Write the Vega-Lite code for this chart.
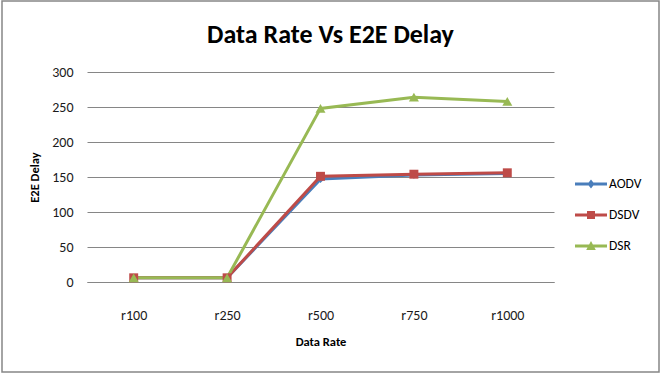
{
  "$schema": "https://vega.github.io/schema/vega-lite/v6.json",
  "autosize": "none",
  "padding": {"left": 2, "top": 1, "right": 8, "bottom": 6},
  "width": 657,
  "height": 371,
  "background": "white",
  "title": {
    "text": "Data Rate Vs E2E Delay",
    "font": "Carlito, Liberation Sans Narrow, Roboto Condensed, Liberation Sans",
    "fontSize": 26,
    "fontWeight": "bold",
    "color": "#000000",
    "anchor": "middle",
    "baseline": "alphabetic",
    "offset": -42,
    "dy": 26
  },
  "config": {
    "view": {"stroke": "#868686", "strokeWidth": 1.5},
    "font": "Carlito, Liberation Sans Narrow, Roboto Condensed, Liberation Sans"
  },
  "data": {
    "values": [
      {"rate": "r100", "protocol": "AODV", "delay": 6},
      {"rate": "r250", "protocol": "AODV", "delay": 6},
      {"rate": "r500", "protocol": "AODV", "delay": 147},
      {"rate": "r750", "protocol": "AODV", "delay": 153},
      {"rate": "r1000", "protocol": "AODV", "delay": 155},
      {"rate": "r100", "protocol": "DSDV", "delay": 6},
      {"rate": "r250", "protocol": "DSDV", "delay": 6},
      {"rate": "r500", "protocol": "DSDV", "delay": 151},
      {"rate": "r750", "protocol": "DSDV", "delay": 154},
      {"rate": "r1000", "protocol": "DSDV", "delay": 156},
      {"rate": "r100", "protocol": "DSR", "delay": 6},
      {"rate": "r250", "protocol": "DSR", "delay": 6},
      {"rate": "r500", "protocol": "DSR", "delay": 248},
      {"rate": "r750", "protocol": "DSR", "delay": 264},
      {"rate": "r1000", "protocol": "DSR", "delay": 258}
    ]
  },
  "encoding": {
    "x": {
      "field": "rate",
      "type": "nominal",
      "sort": ["r100", "r250", "r500", "r750", "r1000"],
      "scale": {"type": "point", "padding": 0.5, "range": [85, 552]},
      "axis": {
        "title": "Data Rate",
        "titleFontSize": 12.5,
        "titleFontWeight": "bold",
        "titleColor": "#000000",
        "titlePadding": 13,
        "labelAngle": 0,
        "labelFontSize": 14,
        "labelColor": "#1a1a1a",
        "labelPadding": 26,
        "ticks": false,
        "domainColor": "#868686",
        "domainWidth": 1,
        "offset": -90
      }
    },
    "y": {
      "field": "delay",
      "type": "quantitative",
      "scale": {"domain": [0, 300], "range": [281, 71], "nice": false},
      "axis": {
        "title": "E2E Delay",
        "titleFontSize": 12.5,
        "titleFontWeight": "bold",
        "titleColor": "#000000",
        "titlePadding": 10,
        "values": [0, 50, 100, 150, 200, 250, 300],
        "labelFontSize": 14,
        "labelColor": "#1a1a1a",
        "labelPadding": 14,
        "ticks": false,
        "domain": false,
        "grid": true,
        "gridColor": "#868686",
        "gridWidth": 1,
        "offset": -85
      }
    },
    "color": {
      "field": "protocol",
      "type": "nominal",
      "scale": {"domain": ["AODV", "DSDV", "DSR"], "range": ["#4a7ebb", "#be4b48", "#98b954"]},
      "legend": {
        "orient": "none",
        "legendX": 573,
        "legendY": 167,
        "title": null,
        "labelFontSize": 13.5,
        "labelFontWeight": "normal",
        "labelColor": "#000000",
        "labelOffset": 2,
        "rowPadding": 8,
        "symbolSize": 1024,
        "encode": {
          "symbols": {
            "update": {
              "shape": {"signal": "datum.value === 'AODV' ? 'M-1,-0.09H1V0.09H-1Z M0,-0.28L0.22,0L0,0.28L-0.22,0Z' : datum.value === 'DSDV' ? 'M-1,-0.09H1V0.09H-1Z M-0.25,-0.25H0.25V0.25H-0.25Z' : 'M-1,-0.09H1V0.09H-1Z M0,-0.32L0.3,0.25H-0.3Z'"},
              "fill": {"scale": "color", "field": "value"},
              "strokeWidth": {"value": 0},
              "opacity": {"value": 1}
            }
          }
        }
      }
    }
  },
  "layer": [
    {
      "mark": {"type": "line", "strokeWidth": 3},
      "encoding": {}
    },
    {
      "transform": [{"filter": "datum.protocol === 'AODV'"}],
      "mark": {"type": "point", "shape": "diamond", "filled": true, "opacity": 1, "size": 60},
      "encoding": {}
    },
    {
      "transform": [{"filter": "datum.protocol === 'DSDV'"}],
      "mark": {"type": "point", "shape": "square", "filled": true, "opacity": 1, "size": 80},
      "encoding": {}
    },
    {
      "transform": [{"filter": "datum.protocol === 'DSR'"}],
      "mark": {"type": "point", "shape": "triangle-up", "filled": true, "opacity": 1, "size": 100},
      "encoding": {}
    }
  ]
}
